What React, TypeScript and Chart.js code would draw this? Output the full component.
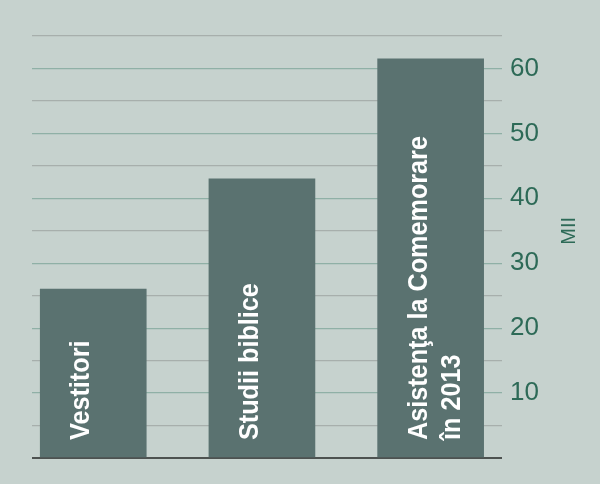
import { useEffect, useRef } from "react";
import { Chart, registerables } from "chart.js";

Chart.register(...registerables);

// chart data
const categories: string[][] = [
  ["Vestitori"],
  ["Studii biblice"],
  ["Asistenţa la Comemorare", "în 2013"],
];
const values: number[] = [26, 43, 61.5];
const yTicks: number[] = [10, 20, 30, 40, 50, 60];
const unitLabel = "MII";

const BG = "#c6d2ce";
const BAR = "#5a7270";
const TEXT_GREEN = "#2d6a57";

const barLabels = {
  id: "barLabels",
  afterDatasetsDraw(chart: Chart) {
    const ctx = chart.ctx;
    const meta = chart.getDatasetMeta(0);
    ctx.save();
    ctx.fillStyle = "#ffffff";
    ctx.font = "bold 28px 'Liberation Sans', Arial, sans-serif";
    ctx.textAlign = "left";
    ctx.textBaseline = "alphabetic";
    meta.data.forEach((el: any, i: number) => {
      const left = el.x - el.width / 2;
      const lines = categories[i];
      ctx.save();
      ctx.translate(left + 49, el.base - 17);
      ctx.rotate(-Math.PI / 2);
      ctx.scale(0.9, 1);
      lines.forEach((line, j) => ctx.fillText(line, 0, j * 33));
      ctx.restore();
    });
    ctx.restore();
  },
};

const unitTitle = {
  id: "unitTitle",
  afterDraw(chart: Chart) {
    const ctx = chart.ctx;
    const y = chart.scales.y;
    ctx.save();
    ctx.fillStyle = TEXT_GREEN;
    ctx.font = "20px 'Liberation Sans', Arial, sans-serif";
    ctx.textAlign = "center";
    ctx.textBaseline = "alphabetic";
    ctx.translate(575, y.getPixelForValue(35));
    ctx.rotate(-Math.PI / 2);
    ctx.fillText(unitLabel, 0, 0);
    ctx.restore();
  },
};

export default function App() {
  const canvasRef = useRef<HTMLCanvasElement>(null);
  const chartRef = useRef<Chart | null>(null);

  useEffect(() => {
    document.body.style.margin = "0";
    document.body.style.background = BG;
    if (!canvasRef.current) return;
    const ctx = canvasRef.current.getContext("2d");
    if (!ctx) return;

    if (chartRef.current) chartRef.current.destroy();

    chartRef.current = new Chart(ctx, {
      type: "bar",
      data: {
        datasets: [
          {
            data: values.map((v, i) => ({ x: i, y: v })),
            backgroundColor: BAR,
            borderWidth: 0,
            barThickness: 106,
          },
        ],
      },
      options: {
        animation: false,
        responsive: false,
        maintainAspectRatio: false,
        layout: { padding: { top: 36, bottom: 26, left: 32, right: 0 } },
        plugins: {
          legend: { display: false },
          tooltip: { enabled: false },
        },
        scales: {
          x: {
            type: "linear",
            display: false,
            offset: false,
            min: -0.363,
            max: 2.423,
          },
          y: {
            position: "right",
            min: 0,
            max: 65,
            border: { display: false },
            afterFit: (scale: any) => {
              scale.width = 98;
            },
            grid: {
              drawTicks: false,
              color: (c: any) =>
                c.tick.value === 0
                  ? "#4d5250"
                  : c.tick.value % 10 === 0
                  ? "#8fb0a6"
                  : "#a7afac",
              lineWidth: (c: any) => (c.tick.value === 0 ? 2 : 1.3),
            },
            ticks: {
              stepSize: 5,
              autoSkip: false,
              padding: 8,
              color: TEXT_GREEN,
              font: { family: "'Liberation Sans', Arial, sans-serif", size: 26 },
              callback: (v: any) => (yTicks.includes(Number(v)) ? String(v) : ""),
            },
          },
        },
      },
      plugins: [barLabels, unitTitle],
    });

    return () => {
      if (chartRef.current) {
        chartRef.current.destroy();
        chartRef.current = null;
      }
    };
  }, []);

  return (
    <div style={{ width: 600, height: 484, background: BG }}>
      <canvas ref={canvasRef} width={600} height={484} />
    </div>
  );
}
